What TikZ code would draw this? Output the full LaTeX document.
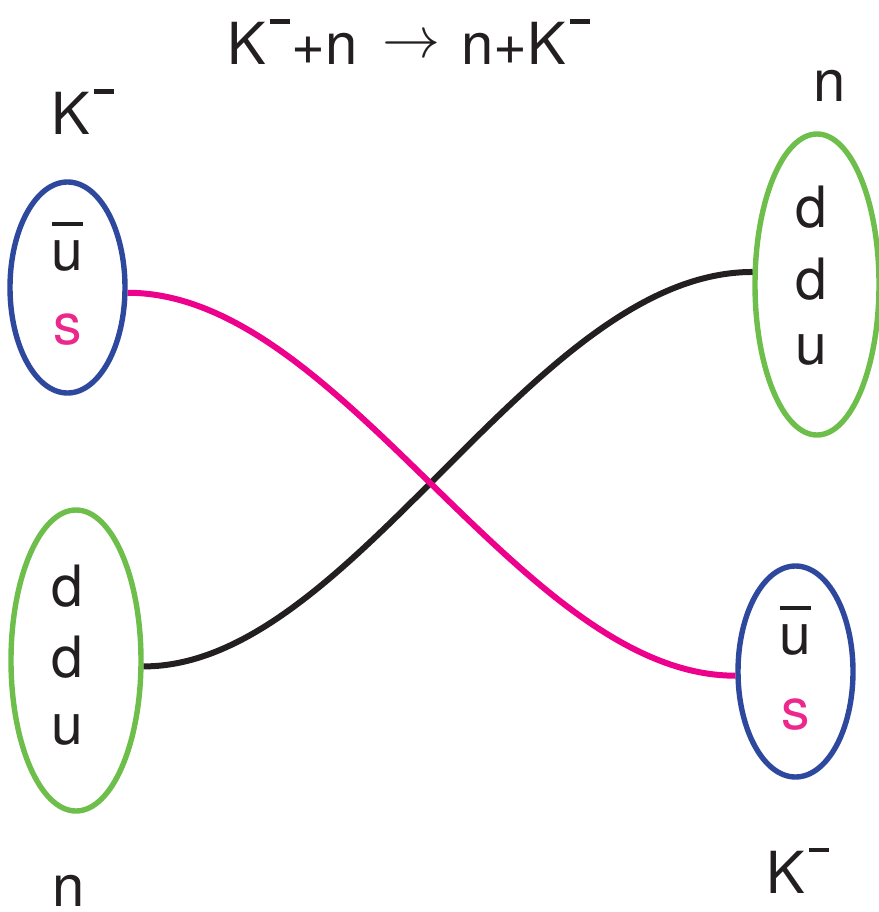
\RequirePackage{fix-cm}
\documentclass[tikz,border=0pt]{standalone}
\usepackage{fontspec}
\setmainfont{TeX Gyre Heros}
\usetikzlibrary{shapes.geometric}
\definecolor{kblue}{RGB}{46,72,158}
\definecolor{ngreen}{RGB}{109,190,75}
\definecolor{spink}{RGB}{236,0,140}
\definecolor{sletter}{RGB}{236,40,140}
\definecolor{qblack}{RGB}{35,31,32}
\newcommand\Kminus{K\kern4pt\rule[41pt]{20pt}{4.5pt}}
\newcommand\antiu{\vbox{\hrule height 4pt width 31pt \kern 14pt \hbox to 31pt{\hss u\hss}}}
\tikzset{
  ell/.style={ellipse, draw, line width=5.4pt, inner sep=0pt},
  big/.style={font=\fontsize{58}{70}\selectfont, text=qblack, inner sep=0pt},
  quark/.style={font=\fontsize{57}{68}\selectfont, text=qblack, inner sep=0pt, anchor=base},
  link/.style={line width=6pt}
}
\begin{document}
\begin{tikzpicture}[x=1pt,y=-1pt]
\useasboundingbox (0,0) rectangle (878,912);
% hadrons
\node[ell, draw=kblue, minimum width=115pt, minimum height=211pt] (kin) at (67.5,287.5) {};
\node[ell, draw=ngreen, minimum width=130pt, minimum height=301pt] (nin) at (76,660.5) {};
\node[ell, draw=ngreen, minimum width=124pt, minimum height=301pt] (nout) at (817,284.5) {};
\node[ell, draw=kblue, minimum width=115pt, minimum height=211pt] (kout) at (795.5,671.5) {};
% title and labels
\node[big, anchor=base west] (title) at (227,65) {\Kminus\kern2pt+n\hspace{24pt}\raisebox{7pt}{$\rightarrow$}\hspace{21pt}n+\Kminus};
\node[big, anchor=base west] (kinlbl) at (51,135) {\Kminus};
\node[big, anchor=base] (ninlbl) at (68.5,906) {n};
\node[big, anchor=base] (noutlbl) at (829.5,102) {n};
\node[big, anchor=base west] (koutlbl) at (766,893) {\Kminus};
% quarks
\node[quark] (kinu) at (67.5,270) {\antiu};
\node[quark, text=sletter] (kins) at (67.5,344) {s};
\node[quark] (nind1) at (67,606) {d};
\node[quark] (nind2) at (67,677) {d};
\node[quark] (ninu) at (67,744) {u};
\node[quark] (noutd1) at (811,227) {d};
\node[quark] (noutd2) at (811,299) {d};
\node[quark] (noutu) at (811,364) {u};
\node[quark] (koutu) at (795.5,654) {\antiu};
\node[quark, text=sletter] (kouts) at (796,729) {s};
% quark lines
\draw[link, qblack] (nin.-5) .. controls +(210,0) and +(-220,0) .. (nout.169);
\draw[link, spink] (kin.-5) .. controls +(215,0) and +(-215,0) .. (kout.184);
\end{tikzpicture}
\end{document}
